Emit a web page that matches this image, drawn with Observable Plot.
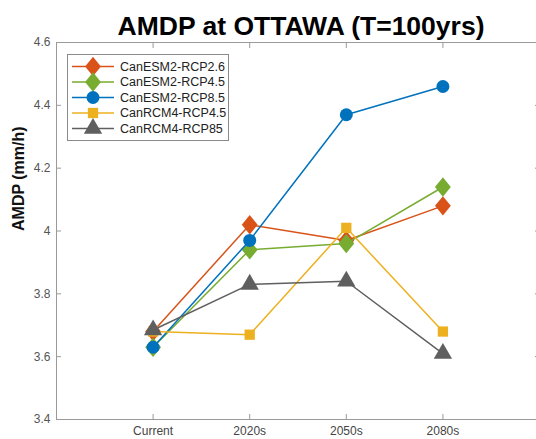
<!DOCTYPE html>
<html><head><meta charset="utf-8">
<script src="https://cdn.jsdelivr.net/npm/d3@7"></script>
<script src="https://cdn.jsdelivr.net/npm/@observablehq/plot@0.6"></script>
<style>
body{margin:0;background:#fff;overflow:hidden;font-family:"Liberation Sans",Arial,sans-serif}
#wrap{position:relative;width:536px;height:439px;overflow:hidden}
#legend{position:absolute;left:0;top:0}
</style></head><body><div id="wrap"></div>
<script>
const periods = ["Current","2020s","2050s","2080s"];
const seriesNames = ["CanESM2-RCP2.6","CanESM2-RCP4.5","CanESM2-RCP8.5","CanRCM4-RCP4.5","CanRCM4-RCP85"];
const rcp26 = [3.68, 4.02, 3.97, 4.08];
const rcp45 = [3.63, 3.94, 3.96, 4.14];
const rcp85 = [3.63, 3.97, 4.37, 4.46];
const rcm45 = [3.68, 3.67, 4.01, 3.68];
const rcm85 = [3.685, 3.83, 3.84, 3.61];
const yTicks = [3.4,3.6,3.8,4,4.2,4.4,4.6];
const colors = ["#D95319","#77AC30","#0072BD","#EDB120","#5F5F5F"];

const diamond = {draw(ctx, size){ const h = Math.sqrt(size*0.75)*1.0; const w = h*0.82; ctx.moveTo(0,-h); ctx.lineTo(w,0); ctx.lineTo(0,h); ctx.lineTo(-w,0); ctx.closePath(); }};
const symbols = [diamond, diamond, d3.symbolCircle, d3.symbolSquare, d3.symbolTriangle];
const radii = [6.3, 6.3, 6.5, 5.8, 6.8];

const allValues = [rcp26, rcp45, rcp85, rcm45, rcm85];
const data = [];
allValues.forEach((vals, s) => vals.forEach((v, i) => data.push({series: seriesNames[s], s, x: i + 1, period: periods[i], v})));

const marks = [Plot.frame({stroke:"#9a9a9a"})];
seriesNames.forEach((name, s) => {
  const d = data.filter(e => e.s === s);
  marks.push(Plot.line(d, {x:"x", y:"v", stroke: colors[s], strokeWidth:1.5}));
  marks.push(Plot.dot(d, {x:"x", y:"v", fill: colors[s], stroke:"none", symbol: () => symbols[s], r: radii[s]}));
});

const chart = Plot.plot({
  width: 536, height: 439,
  marginLeft: 56, marginRight: -3, marginTop: 42, marginBottom: 20,
  style: {fontFamily: '"Liberation Sans", Arial, sans-serif', background: "#fff"},
  x: {domain: [0, 5]},
  y: {domain: [3.4, 4.6]},
  symbol: {type: "identity"},
  marks: [
    ...marks,
    Plot.axisX([1,2,3,4], {anchor:"bottom", tickSize:-5, tickPadding:12, tickFormat: d => periods[d-1], fontSize:12, color:"#444", stroke:"#9a9a9a", label:null}),
    Plot.axisX([1,2,3,4], {anchor:"top", tickSize:-5, tickFormat: null, text: null, stroke:"#9a9a9a", label:null}),
    Plot.axisY(yTicks, {anchor:"left", tickSize:-5, tickPadding:11, tickFormat: d => String(d), fontSize:12, color:"#555", stroke:"#9a9a9a", label:null}),
    Plot.axisY(yTicks, {anchor:"right", tickSize:-5, text: null, stroke:"#9a9a9a", label:null}),
    Plot.text(["AMDP at OTTAWA (T=100yrs)"], {frameAnchor:"top", dx:3, dy:-26, fontSize:26.5, fontWeight:"bold", fill:"#000"}),
    Plot.text(["AMDP (mm/h)"], {frameAnchor:"left", rotate:-90, dx:-38, fontSize:16, fontWeight:"bold", fill:"#111"})
  ]
});
const wrap = document.getElementById("wrap");
wrap.appendChild(chart);

// legend
const lg = d3.select(wrap).append("svg").attr("id","legend").attr("width",536).attr("height",200);
lg.append("rect").attr("x",67.5).attr("y",54.5).attr("width",161).attr("height",86).attr("fill","#fff").attr("stroke","#8a8a8a");
seriesNames.forEach((name, s) => {
  const y = 66.5 + s*15.5;
  const g = lg.append("g");
  g.append("line").attr("x1",72).attr("x2",114).attr("y1",y).attr("y2",y).attr("stroke",colors[s]).attr("stroke-width",1.5);
  g.append("path").attr("transform",`translate(93,${y})`).attr("d", d3.symbol(symbols[s], Math.PI*radii[s]*radii[s])()).attr("fill",colors[s]);
  g.append("text").attr("x",120).attr("y",y).attr("dy","0.35em").attr("font-size",12.5).attr("fill","#222").attr("font-family",'"Liberation Sans", Arial, sans-serif').text(name);
});
</script></body></html>
